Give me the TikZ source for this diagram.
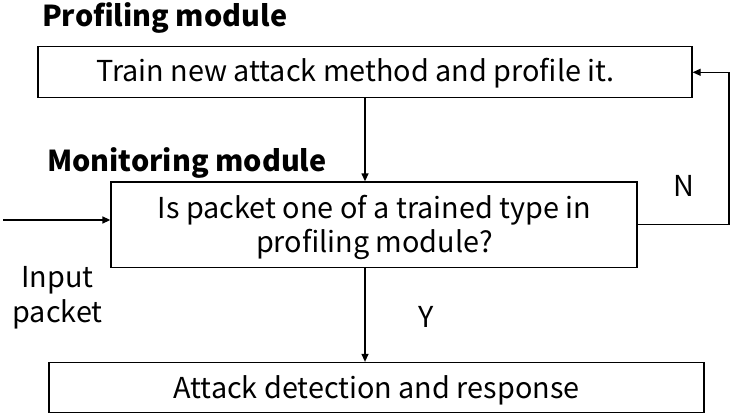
\documentclass[tikz,border=0pt]{standalone}
\usepackage{fontspec}
\setmainfont{Noto Sans CJK KR}
\usetikzlibrary{arrows.meta}
\tikzset{
  box/.style={draw, line width=1.3pt, inner sep=0pt},
  txt/.style={font=\fontsize{28.8}{34}\selectfont, inner sep=0pt},
  hdr/.style={font=\fontsize{28.8}{34}\selectfont\bfseries, inner sep=0pt},
  arr/.style={line width=1.3pt, -{Triangle[length=8pt,width=7pt]}}
}
\begin{document}
\begin{tikzpicture}[x=1pt,y=-1pt]
\useasboundingbox (0,0) rectangle (735,417);
% boxes
\node[box, minimum width=654pt, minimum height=51pt] (top) at (365,72.3) {};
\node[box, minimum width=526pt, minimum height=85.5pt] (mid) at (374,224.75) {};
\node[box, minimum width=655pt, minimum height=50pt] (bot) at (376.5,387.5) {};
% texts
\node[txt, anchor=base] (toptxt) at (355.5,82) {Train new attack method and profile it.};
\node[txt, anchor=base, align=center] (midtxt) at (374.5,252) {Is packet one of a trained type in\\profiling module?};
\node[txt, anchor=base] (bottxt) at (376.5,398) {Attack detection and response};
\node[hdr, anchor=base west] (proflbl) at (42,27) {Profiling module};
\node[hdr, anchor=base west] (monlbl) at (47,171) {Monitoring module};
\node[txt, anchor=base, align=center, font=\fontsize{28.8}{35}\selectfont] (inlbl) at (57.5,322) {Input\\packet};
\node[txt, anchor=base] (nlbl) at (684,196) {N};
\node[txt, anchor=base] (ylbl) at (426.5,327) {Y};
% connectors
\coordinate (ax) at (365,0);
\coordinate (inpt) at (3,220);
\coordinate (fbx) at (729,0);
\draw[arr] (top.south -| ax) -- (mid.north -| ax);
\draw[arr] (mid.south -| ax) -- (bot.north -| ax);
\draw[arr] (inpt) -- (inpt -| mid.west);
\draw[arr] (mid.east) -- (mid.east -| fbx) -- (top.east -| fbx) -- (top.east);
\end{tikzpicture}
\end{document}
